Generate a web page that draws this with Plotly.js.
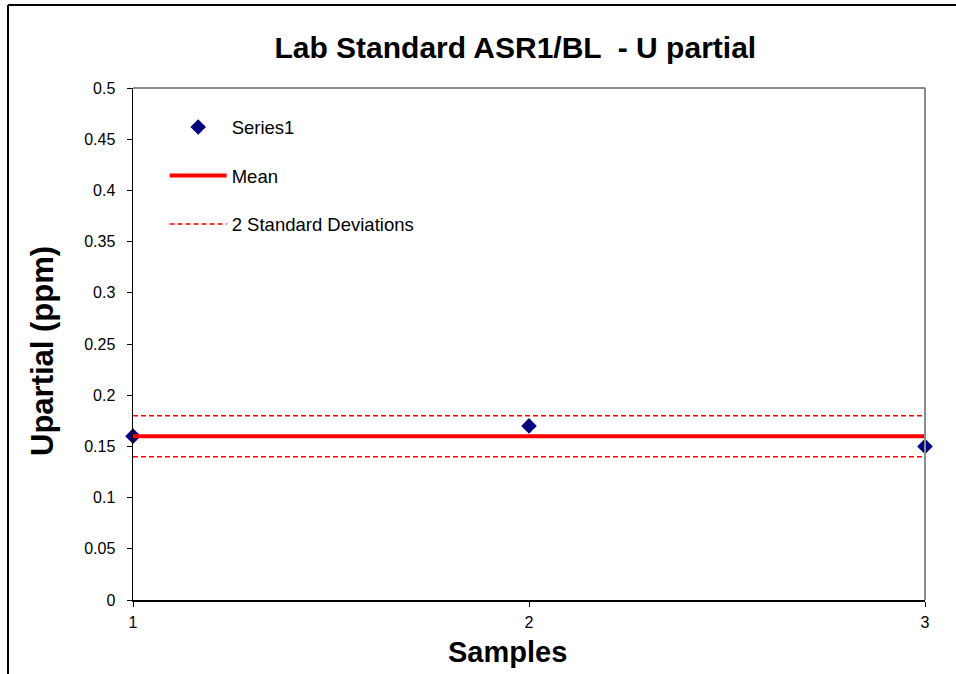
<!DOCTYPE html>
<html>
<head>
<meta charset="utf-8">
<script src="https://cdn.plot.ly/plotly-3.0.1.min.js"></script>
<style>html,body{margin:0;padding:0;background:#fff;}#chart{width:956px;height:674px;}</style>
</head>
<body>
<div id="chart"></div>
<script>
const samples = [1, 2, 3];
const series1 = [0.16, 0.17, 0.15];
const meanValue = 0.16;
const upper2SD = 0.18;
const lower2SD = 0.14;
const yTicks = [0, 0.05, 0.1, 0.15, 0.2, 0.25, 0.3, 0.35, 0.4, 0.45, 0.5];
const yTickText = ['0', '0.05', '0.1', '0.15', '0.2', '0.25', '0.3', '0.35', '0.4', '0.45', '0.5'];

const xEnds = [samples[0], samples[samples.length - 1]];

const traces = [
  {
    x: samples, y: series1, type: 'scatter', mode: 'markers', name: 'Series1',
    marker: {symbol: 'diamond', size: 12, color: '#000080'},
    cliponaxis: false, legendgroup: 'a'
  },
  {
    x: xEnds, y: [meanValue, meanValue], type: 'scatter', mode: 'lines', name: 'Mean',
    line: {color: '#FF0000', width: 4}, legendgroup: 'b'
  },
  {
    x: xEnds, y: [upper2SD, upper2SD], type: 'scatter', mode: 'lines', name: '2 Standard Deviations',
    line: {color: '#FF0000', width: 1.5, dash: '5px,3px'}, legendgroup: 'c'
  },
  {
    x: xEnds, y: [lower2SD, lower2SD], type: 'scatter', mode: 'lines', name: '2 SD lower',
    line: {color: '#FF0000', width: 1.5, dash: '5px,3px'}, showlegend: false, legendgroup: 'c'
  }
];

const layout = {
  width: 956, height: 674,
  margin: {l: 133, r: 31, t: 88, b: 74},
  paper_bgcolor: '#ffffff', plot_bgcolor: '#ffffff',
  font: {family: 'Liberation Sans, Arial, sans-serif', color: '#000', size: 16},
  title: {text: '<b>Lab Standard ASR1/BL  - U partial</b>', font: {size: 30, color: '#000'}, x: 0.539, xanchor: 'center', y: 0.93, yanchor: 'middle'},
  xaxis: {
    range: [1, 3], tickvals: samples, ticktext: samples.map(String),
    showgrid: false, zeroline: false, showline: true, linecolor: '#000', linewidth: 1.5,
    ticks: 'outside', ticklen: 5, tickcolor: '#000', tickfont: {size: 16},
    ticklabelstandoff: 2
  },
  yaxis: {
    range: [0, 0.5], tickvals: yTicks, ticktext: yTickText,
    showgrid: false, zeroline: false, showline: true, linecolor: '#000', linewidth: 1.5,
    ticks: 'outside', ticklen: 5, tickcolor: '#000', tickfont: {size: 16},
    ticklabelstandoff: 8
  },
  annotations: [
    {text: '<b>Samples</b>', xref: 'paper', yref: 'paper', x: (507 - 133) / 792, y: (600 - 652) / 512,
     xanchor: 'center', yanchor: 'middle', showarrow: false, font: {size: 29}},
    {text: '<b>Upartial (ppm)</b>', xref: 'paper', yref: 'paper', x: (42 - 133) / 792, y: (600 - 351) / 512,
     xanchor: 'center', yanchor: 'middle', textangle: -90, showarrow: false, font: {size: 31}}
  ],
  showlegend: true,
  legend: {
    x: 0.04, y: 0.96, xanchor: 'left', yanchor: 'top',
    bgcolor: 'rgba(0,0,0,0)', font: {size: 18.5}, traceorder: 'grouped',
    tracegroupgap: 21.5, itemwidth: 57
  },
  shapes: [
    {type: 'line', xref: 'paper', yref: 'paper', x0: 0, x1: 1, y0: 1, y1: 1, line: {color: '#8c8c8c', width: 2}},
    {type: 'line', xref: 'paper', yref: 'paper', x0: 1, x1: 1, y0: 0, y1: 1, line: {color: '#8c8c8c', width: 2}},
    {type: 'line', xref: 'paper', yref: 'paper', x0: (8 - 133) / 792, x1: (8 - 133) / 792, y0: -74 / 512, y1: 1 + 83 / 512, line: {color: '#000', width: 2}},
    {type: 'line', xref: 'paper', yref: 'paper', x0: (8 - 133) / 792, x1: 1 + 31 / 792, y0: 1 + 83 / 512, y1: 1 + 83 / 512, line: {color: '#000', width: 2}}
  ]
};

Plotly.newPlot('chart', traces, layout, {displayModeBar: false, staticPlot: true});
</script>
</body>
</html>
